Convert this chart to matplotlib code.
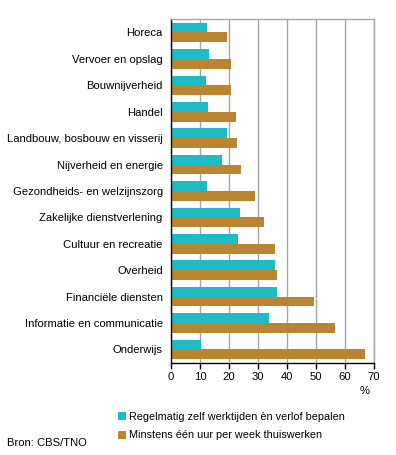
import matplotlib.pyplot as plt
import numpy as np

plt.rcParams['font.family'] = ['Liberation Sans', 'DejaVu Sans']

# Gegevens
sectoren = ['Horeca', 'Vervoer en opslag', 'Bouwnijverheid', 'Handel',
            'Landbouw, bosbouw en visserij', 'Nijverheid en energie',
            'Gezondheids- en welzijnszorg', 'Zakelijke dienstverlening',
            'Cultuur en recreatie', 'Overheid', 'Financiële diensten',
            'Informatie en communicatie', 'Onderwijs']
zelf_bepalen = [12.5, 13.2, 11.9, 12.9, 19.4, 17.7, 12.5, 23.9, 23.2, 35.7, 36.7, 33.9, 10.5]
thuiswerken = [19.4, 20.6, 20.8, 22.5, 22.9, 24.3, 29.1, 32.2, 35.7, 36.7, 49.4, 56.7, 67.0]
labels = ['Regelmatig zelf werktijden èn verlof bepalen',
          'Minstens één uur per week thuiswerken']
colors = ['#1bbcc6', '#b98531']
xticks = [0, 10, 20, 30, 40, 50, 60, 70]
fs = 8.1

fig = plt.figure(figsize=(3.96, 4.55), dpi=100)
ax = fig.add_axes([0.4318, 0.2029, 0.5126, 0.7547])

y = np.arange(len(sectoren))
h = 0.37
ax.barh(y - h / 2, zelf_bepalen, height=h, color=colors[0], label=labels[0], zorder=2)
ax.barh(y + h / 2, thuiswerken, height=h, color=colors[1], label=labels[1], zorder=2)

ax.set_ylim(len(sectoren) - 0.5, -0.5)
ax.set_xlim(0, 70)
ax.set_yticks(y)
ax.set_yticklabels(sectoren, fontsize=fs)
ax.tick_params(axis='y', length=0, pad=6)
ax.set_xticks(xticks)
ax.set_xticklabels([str(t) for t in xticks], fontsize=fs)
ax.tick_params(axis='x', length=4, width=1, direction='out', pad=3)

ax.grid(axis='x', color='#a6a6a6', linewidth=1, zorder=1)
ax.spines['left'].set_color('black')
ax.spines['bottom'].set_color('black')
ax.spines['top'].set_color('#a6a6a6')
ax.spines['right'].set_color('#a6a6a6')
for s in ax.spines.values():
    s.set_linewidth(1)

fig.text(365 / 396, 1 - 391 / 455, '%', fontsize=fs, ha='center', va='center')

# Legenda
handles, lbls = ax.get_legend_handles_labels()
fig.legend(handles, lbls, loc='upper left', bbox_to_anchor=(108 / 396, 1 - 402 / 455),
           frameon=False, fontsize=7.8, handlelength=0.75, handleheight=0.75,
           handletextpad=0.3, labelspacing=0.8)

fig.text(7 / 396, 1 - 443 / 455, 'Bron: CBS/TNO', fontsize=fs, ha='left', va='center')

plt.savefig('out.png', dpi=100)
